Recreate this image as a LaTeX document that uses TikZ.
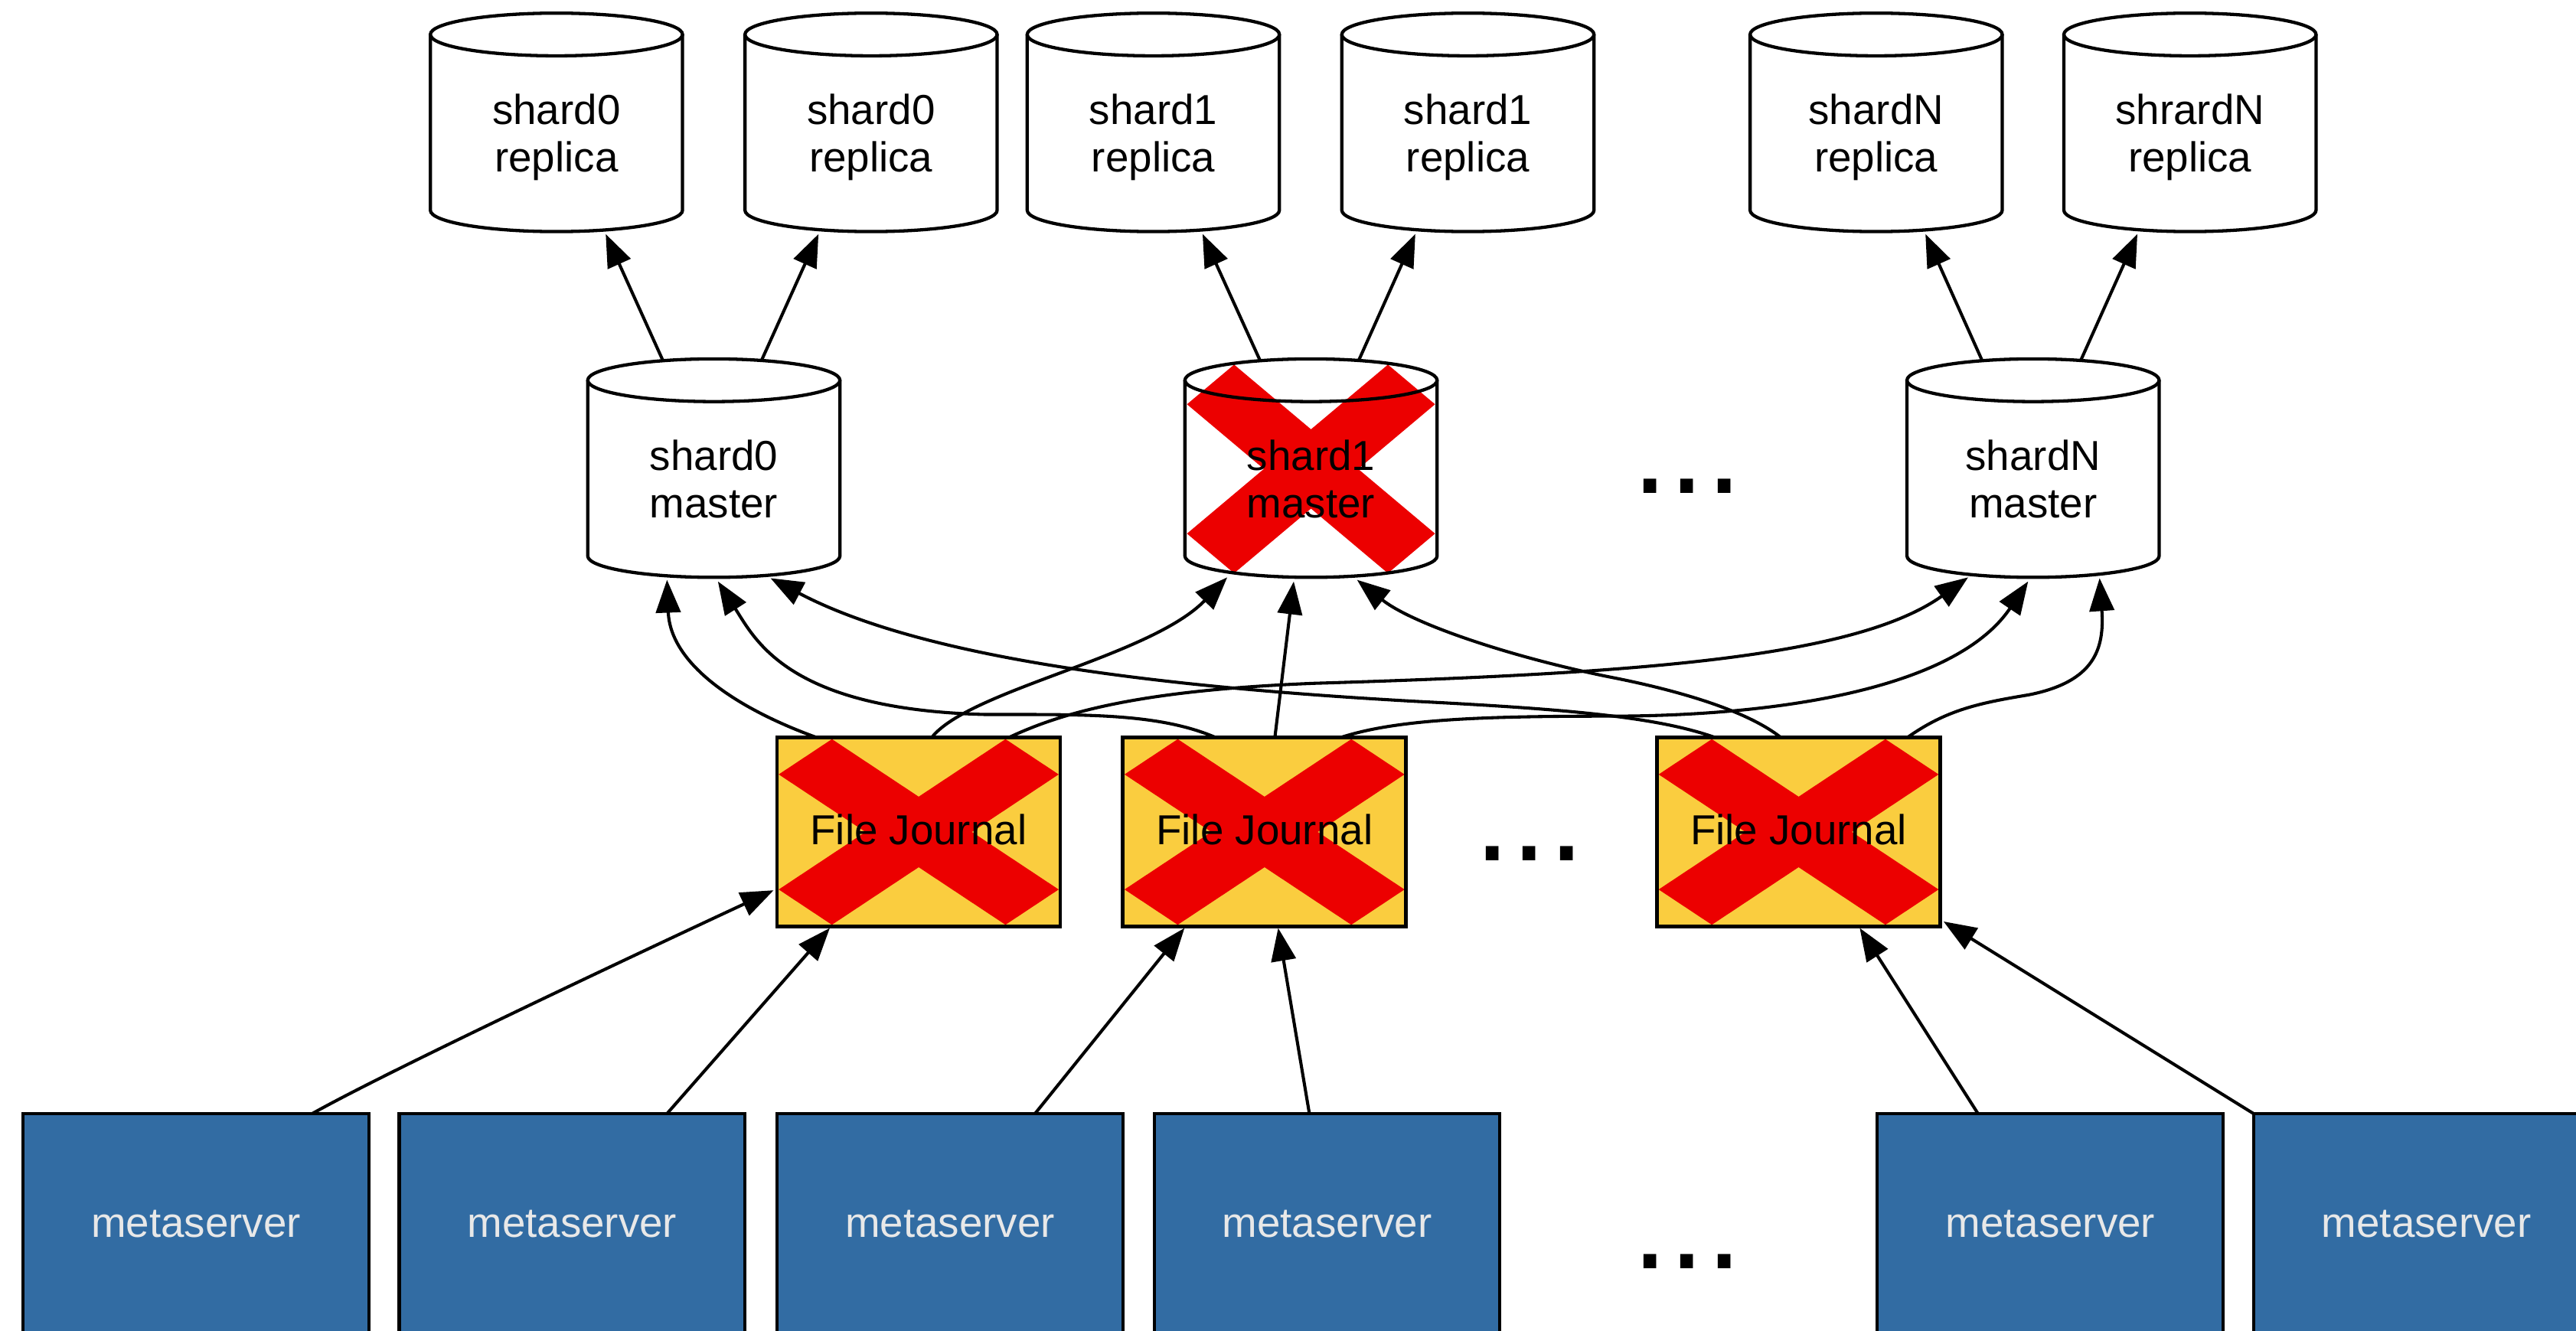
\documentclass[tikz,border=0pt]{standalone}
\usepackage{fontspec}
\setmainfont{Liberation Sans}
\usetikzlibrary{arrows.meta}
\definecolor{fjyellow}{HTML}{FACD3F}
\definecolor{xred}{HTML}{EC0000}
\definecolor{msblue}{HTML}{326CA3}
\definecolor{mstext}{HTML}{E8E8E8}
% cylinder: #1 = centre x, #2 = top y (rx 76.75, ry 13, height 133)
\newcommand\cylfill[2]{\fill[white] ({#1-76.75},{#2+13}) -- ({#1-76.75},{#2+120}) .. controls ({#1-76.75},{#2+127.18}) and ({#1-42.39},{#2+133}) .. ({#1},{#2+133}) .. controls ({#1+42.39},{#2+133}) and ({#1+76.75},{#2+127.18}) .. ({#1+76.75},{#2+120}) -- ({#1+76.75},{#2+13}) .. controls ({#1+76.75},{#2+5.82}) and ({#1+42.39},{#2}) .. ({#1},{#2}) .. controls ({#1-42.39},{#2}) and ({#1-76.75},{#2+5.82}) .. cycle;}
\newcommand\cyldraw[2]{\draw[cylline] ({#1-76.75},{#2+13}) -- ({#1-76.75},{#2+120}) .. controls ({#1-76.75},{#2+127.18}) and ({#1-42.39},{#2+133}) .. ({#1},{#2+133}) .. controls ({#1+42.39},{#2+133}) and ({#1+76.75},{#2+127.18}) .. ({#1+76.75},{#2+120}) -- ({#1+76.75},{#2+13});
\draw[cylline] ({#1},{#2+13}) ellipse [x radius=76.75pt, y radius=13pt];}
% red cross: #1 left, #2 top, #3 width, #4 height
\newcommand\redx[4]{\fill[xred] ({#1},{#2+0.19*#4}) -- ({#1+0.19*#3},{#2}) -- ({#1+0.5*#3},{#2+0.31*#4}) -- ({#1+0.81*#3},{#2}) -- ({#1+#3},{#2+0.19*#4}) -- ({#1+0.69*#3},{#2+0.5*#4}) -- ({#1+#3},{#2+0.81*#4}) -- ({#1+0.81*#3},{#2+#4}) -- ({#1+0.5*#3},{#2+0.69*#4}) -- ({#1+0.19*#3},{#2+#4}) -- ({#1},{#2+0.81*#4}) -- ({#1+0.31*#3},{#2+0.5*#4}) -- cycle;}
\begin{document}
\begin{tikzpicture}[x=1pt,y=-1pt,
  conn/.style={draw=black, line width=1.9pt, -{Triangle[length=20pt,width=15pt]}},
  cylline/.style={draw=black, line width=2pt},
  cylbox/.style={rectangle, draw=none, minimum width=153.5pt, minimum height=133pt, inner sep=0pt, outer sep=0pt},
  cyltext/.style={align=center, font=\fontsize{25.5}{29}\selectfont, text depth=0pt, inner sep=0pt},
  fjbox/.style={rectangle, fill=fjyellow, minimum width=172.4pt, minimum height=115pt, inner sep=0pt, outer sep=0pt},
  fjborder/.style={draw=black, line width=2.2pt},
  fjtext/.style={font=\fontsize{25.5}{29}\selectfont, text depth=0pt, inner sep=0pt},
  msbox/.style={rectangle, fill=msblue, draw=black, line width=1.9pt, minimum width=210.5pt, minimum height=134pt, inner sep=0pt, outer sep=0pt, text=mstext, font=\fontsize{25.5}{29}\selectfont},
  dots/.style={font=\fontsize{81}{90}\selectfont, inner sep=0pt}]
\fill[white] (0,0) rectangle (1568,810);
\useasboundingbox (0,0) rectangle (1568,810);

% ---------- replicas ----------
\cylfill{338.7}{8}\cyldraw{338.7}{8}
\node[cylbox] (r1) at (338.7,74.5) {};
\node[cyltext] (r1t) at (338.7,81) {shard0\\replica};
\cylfill{530.2}{8}\cyldraw{530.2}{8}
\node[cylbox] (r2) at (530.2,74.5) {};
\node[cyltext] (r2t) at (530.2,81) {shard0\\replica};
\cylfill{702}{8}\cyldraw{702}{8}
\node[cylbox] (r3) at (702,74.5) {};
\node[cyltext] (r3t) at (702,81) {shard1\\replica};
\cylfill{893.5}{8}\cyldraw{893.5}{8}
\node[cylbox] (r4) at (893.5,74.5) {};
\node[cyltext] (r4t) at (893.5,81) {shard1\\replica};
\cylfill{1142}{8}\cyldraw{1142}{8}
\node[cylbox] (r5) at (1142,74.5) {};
\node[cyltext] (r5t) at (1142,81) {shardN\\replica};
\cylfill{1333}{8}\cyldraw{1333}{8}
\node[cylbox] (r6) at (1333,74.5) {};
\node[cyltext] (r6t) at (1333,81) {shrardN\\replica};

% ---------- masters ----------
\cylfill{434.5}{218.5}\cyldraw{434.5}{218.5}
\node[cylbox] (m0) at (434.5,285) {};
\node[cyltext] (m0t) at (434.5,291.5) {shard0\\master};
\cylfill{798}{218.5}\redx{722.5}{222}{151}{127}\cyldraw{798}{218.5}
\node[cylbox] (m1) at (798,285) {};
\node[cyltext] (m1t) at (798,291.5) {shard1\\master};
\cylfill{1237.5}{218.5}\cyldraw{1237.5}{218.5}
\node[cylbox] (mn) at (1237.5,285) {};
\node[cyltext] (mnt) at (1237.5,291.5) {shardN\\master};
\node[dots] (d1) at (1027,296) {...};

% ---------- file journals ----------
\node[fjbox] (f1) at (559.1,506.5) {};
\redx{474}{450}{170.4}{113}
\draw[fjborder] (f1.north west) rectangle (f1.south east);
\node[fjtext] (f1t) at (559.1,505) {File Journal};
\node[fjbox] (f2) at (769.7,506.5) {};
\redx{684.5}{450}{170.4}{113}
\draw[fjborder] (f2.north west) rectangle (f2.south east);
\node[fjtext] (f2t) at (769.7,505) {File Journal};
\node[fjbox] (f3) at (1094.8,506.5) {};
\redx{1009.6}{450}{170.4}{113}
\draw[fjborder] (f3.north west) rectangle (f3.south east);
\node[fjtext] (f3t) at (1094.8,505) {File Journal};
\node[dots] (d2) at (931,519.5) {...};

% ---------- metaservers ----------
\node[msbox] (s1) at (119.25,745) {metaserver};
\node[msbox] (s2) at (348.25,745) {metaserver};
\node[msbox] (s3) at (578.25,745) {metaserver};
\node[msbox] (s4) at (807.75,745) {metaserver};
\node[msbox] (s5) at (1248,745) {metaserver};
\node[msbox] (s6) at (1477,745) {metaserver};
\node[dots] (d3) at (1027,768) {...};

% ---------- master -> replica ----------
\draw[conn] ([xshift=-31pt,yshift=-1pt]m0.north) -- ([xshift=30pt,yshift=-1.5pt]r1.south);
\draw[conn] ([xshift=29pt,yshift=-1pt]m0.north) -- ([xshift=-32pt,yshift=-1.5pt]r2.south);
\draw[conn] ([xshift=-31pt,yshift=-1pt]m1.north) -- ([xshift=30pt,yshift=-1.5pt]r3.south);
\draw[conn] ([xshift=29pt,yshift=-1pt]m1.north) -- ([xshift=-32pt,yshift=-1.5pt]r4.south);
\draw[conn] ([xshift=-31pt,yshift=-1pt]mn.north) -- ([xshift=30pt,yshift=-1.5pt]r5.south);
\draw[conn] ([xshift=29pt,yshift=-1pt]mn.north) -- ([xshift=-32pt,yshift=-1.5pt]r6.south);

% ---------- journal -> master ----------
\draw[conn] ([xshift=-62pt]f1.north) .. controls (450,432) and (408,405) .. ([xshift=-28.5pt,yshift=-1.5pt]m0.south);
\draw[conn] ([xshift=8pt]f1.north) .. controls (590,420) and (700,400) .. ([xshift=-51pt]m1.south);
\draw[conn] ([xshift=55pt]f1.north) .. controls (650,432) and (700,420) .. (800,416) .. controls (1000,410) and (1130,400) .. ([xshift=-39.5pt]mn.south);
\draw[conn] ([xshift=-29.7pt]f2.north) .. controls (705,434) and (660,435) .. (600,435) .. controls (480,432) and (460,390) .. ([xshift=2.5pt,yshift=-2.5pt]m0.south);
\draw[conn] ([xshift=6.3pt]f2.north) -- ([xshift=-10.5pt,yshift=-2.5pt]m1.south);
\draw[conn] ([xshift=46.3pt]f2.north) .. controls (850,438) and (900,436) .. (980,436) .. controls (1080,436) and (1190,420) .. ([xshift=-3pt,yshift=-2.5pt]mn.south);
\draw[conn] ([xshift=-50.8pt]f3.north) .. controls (1010,437) and (960,432) .. (862,427) .. controls (700,418) and (560,400) .. ([xshift=34.5pt,yshift=-0.5pt]m0.south);
\draw[conn] ([xshift=-10.8pt]f3.north) .. controls (1060,430) and (1010,418) .. (979,412) .. controls (920,400) and (860,380) .. ([xshift=28pt,yshift=-1.5pt]m1.south);
\draw[conn] ([xshift=66.2pt]f3.north) .. controls (1185,432) and (1205,428) .. (1235,423) .. controls (1275,415) and (1281,395) .. ([xshift=40.5pt,yshift=-0.5pt]mn.south);

% ---------- metaserver -> journal ----------
\draw[conn] ([xshift=70.75pt]s1.north) .. controls (240,650) and (400,575) .. ([xshift=-2pt,yshift=-35.5pt]f1.west);
\draw[conn] ([xshift=57.75pt]s2.north) -- ([xshift=-54pt,yshift=-1pt]f1.south);
\draw[conn] ([xshift=51.75pt]s3.north) -- ([xshift=-48.7pt,yshift=-1pt]f2.south);
\draw[conn] ([xshift=-10.75pt]s4.north) -- ([xshift=8.3pt,yshift=-1pt]f2.south);
\draw[conn] ([xshift=-44pt]s5.north) -- ([xshift=37.2pt,yshift=-1pt]f3.south);
\draw[conn] (s6.north west) -- ([xshift=2pt,yshift=3pt]f3.south east);
\end{tikzpicture}
\end{document}
